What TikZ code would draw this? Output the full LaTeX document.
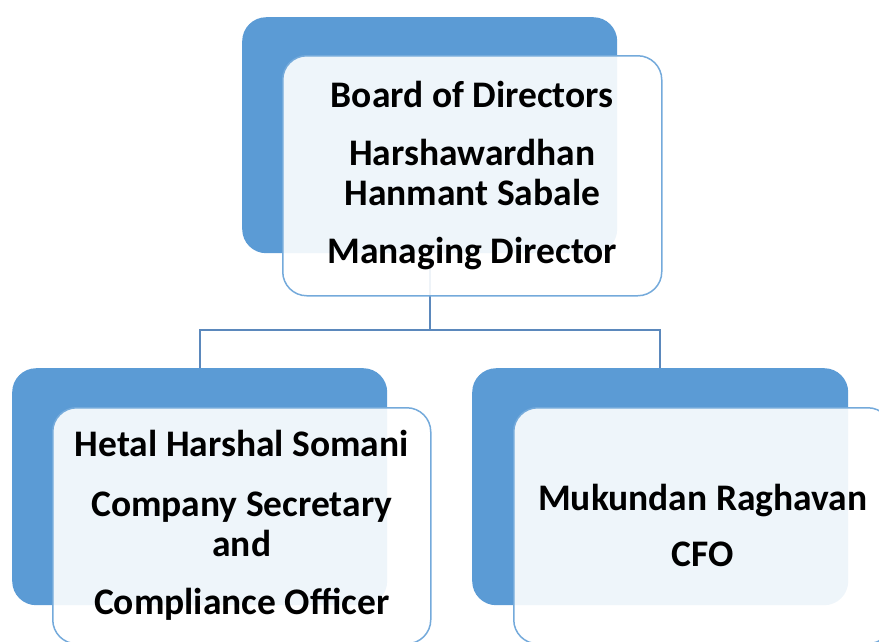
\documentclass[tikz,border=0pt]{standalone}
\usepackage{fontspec}
\setmainfont{Carlito}
\definecolor{boxblue}{HTML}{5B9BD5}
\definecolor{linkblue}{HTML}{5B88BC}
\begin{document}
\begin{tikzpicture}[x=1pt,y=-1pt,
  back/.style={draw=none, fill=boxblue, rounded corners=24pt, inner sep=0pt,
    anchor=north west, minimum width=375pt, minimum height=236pt},
  front/.style={draw=boxblue!85, line width=1.5pt, fill=white, fill opacity=0.9,
    text opacity=1, rounded corners=24pt, inner sep=0pt, anchor=north west,
    minimum width=378pt, minimum height=238pt, align=center,
    font=\fontsize{37.5}{40}\selectfont\bfseries},
  link/.style={draw=linkblue, line width=2pt}]
\useasboundingbox (0,0) rectangle (879,641);
\clip (0,0) rectangle (879,641);
% back boxes
\node[back] (tb) at (242,17) {};
\node[back, minimum height=237pt] (lb) at (12,368) {};
\node[back, minimum width=376pt, minimum height=237pt] (rb) at (472,368) {};
% connectors
\coordinate (j) at (tb.south |- 0,330);
\draw[link] (tb.south) -- (j);
\draw[link] (lb.north) -- (lb.north |- j) -- (rb.north |- j) -- (rb.north);
% front boxes
\node[front, minimum width=379pt, minimum height=240pt] (tw) at (282,55)
  {Board of Directors\\[18pt]Harshawardhan\\Hanmant Sabale\\[18pt]Managing Director};
\node[front, minimum height=236pt] (lw) at (52,407)
  {Hetal Harshal Somani\\[20pt]Company Secretary\\and\\[18pt]Compliance Officer};
\node[front, minimum height=236pt] (rw) at (513,407)
  {Mukundan Raghavan\\[16pt]CFO};
\end{tikzpicture}
\end{document}
